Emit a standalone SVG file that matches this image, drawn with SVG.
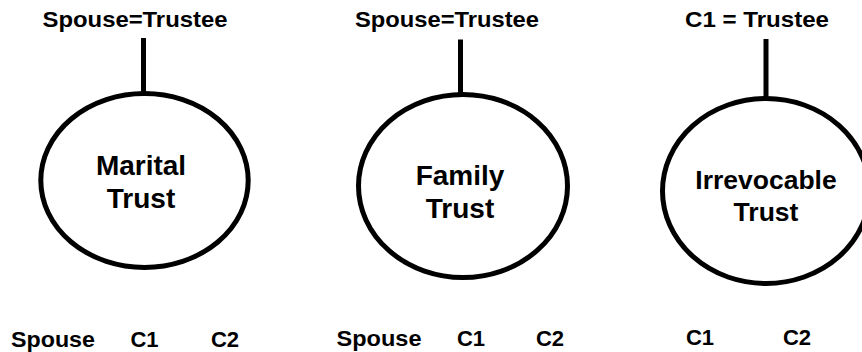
<svg xmlns="http://www.w3.org/2000/svg" width="862" height="352" viewBox="0 0 862 352">
<style>
.node{fill:#fff;stroke:#000;stroke-width:5}
.conn{stroke:#000;stroke-width:5;fill:none}
text{font-family:"Liberation Sans",Arial,sans-serif;font-weight:bold;fill:#000;text-anchor:middle}
.in{font-size:28px}
.lbl{font-size:22px}
</style>
<rect width="862" height="352" fill="#fff"/>
<g id="connectors">
<line class="conn" x1="143.5" y1="38" x2="143.5" y2="93"/>
<line class="conn" x1="460.5" y1="39.5" x2="460.5" y2="95"/>
<line class="conn" x1="766" y1="39" x2="766" y2="99"/>
</g>
<g id="marital-trust">
<ellipse class="node" cx="144.5" cy="180.5" rx="103.7" ry="87"/>
<text class="in" x="141" y="175">Marital</text>
<text class="in" x="141" y="208">Trust</text>
</g>
<g id="family-trust">
<ellipse class="node" cx="463" cy="186" rx="104.5" ry="91.5"/>
<text class="in" x="460" y="185">Family</text>
<text class="in" x="460" y="218">Trust</text>
</g>
<g id="irrevocable-trust">
<ellipse class="node" cx="766" cy="191" rx="103.5" ry="92.5"/>
<text class="in" x="766" y="189" style="font-size:26.5px">Irrevocable</text>
<text class="in" x="766" y="221" style="font-size:26.5px">Trust</text>
</g>
<g id="trustee-1"><text class="lbl" x="135" y="27" textLength="185" lengthAdjust="spacingAndGlyphs">Spouse=Trustee</text></g>
<g id="trustee-2"><text class="lbl" x="447" y="27" textLength="184" lengthAdjust="spacingAndGlyphs">Spouse=Trustee</text></g>
<g id="trustee-3"><text class="lbl" x="757" y="27" textLength="144" lengthAdjust="spacingAndGlyphs">C1 = Trustee</text></g>
<g id="beneficiaries-1">
<text class="lbl" x="53" y="347" textLength="84" lengthAdjust="spacingAndGlyphs">Spouse</text>
<text class="lbl" x="144.5" y="347">C1</text>
<text class="lbl" x="225" y="347">C2</text>
</g>
<g id="beneficiaries-2">
<text class="lbl" x="379" y="346" textLength="85" lengthAdjust="spacingAndGlyphs">Spouse</text>
<text class="lbl" x="471" y="346">C1</text>
<text class="lbl" x="550" y="346">C2</text>
</g>
<g id="beneficiaries-3">
<text class="lbl" x="700" y="345">C1</text>
<text class="lbl" x="797" y="345">C2</text>
</g>
</svg>
